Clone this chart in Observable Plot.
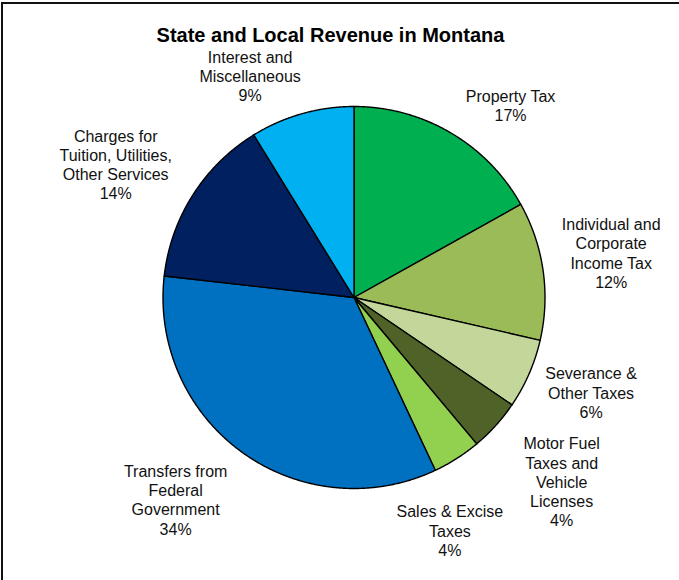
<!DOCTYPE html>
<html><head><meta charset="utf-8">
<script src="https://cdn.jsdelivr.net/npm/d3@7"></script>
<script src="https://cdn.jsdelivr.net/npm/@observablehq/plot@0.6"></script>
<style>
html,body{margin:0;padding:0;background:#fff;}
#wrap{position:relative;width:679px;height:580px;overflow:hidden;background:#fff;}
#border{position:absolute;left:1px;top:2px;right:-10px;bottom:-10px;border-left:2px solid #111;border-top:2px solid #111;pointer-events:none;}
</style></head><body>
<div id="wrap"><div id="chart"></div><div id="border"></div></div>
<script>
// ---- data ----
const title = "State and Local Revenue in Montana";
const categories = [
  "Property Tax",
  "Individual and\nCorporate\nIncome Tax",
  "Severance &\nOther Taxes",
  "Motor Fuel\nTaxes and\nVehicle\nLicenses",
  "Sales & Excise\nTaxes",
  "Transfers from\nFederal\nGovernment",
  "Charges for\nTuition, Utilities,\nOther Services",
  "Interest and\nMiscellaneous"
];
const shares = [16.9, 11.7, 5.9, 4.4, 4.1, 33.8, 14.4, 8.8];
const colors = ["#00B050", "#9BBB59", "#C4D79B", "#4F6228", "#92D050", "#0070C0", "#002060", "#00B0F0"];

// ---- layout (not data) ----
const W = 679, H = 580, CX = 353.5, CY = 297, R = 191;
const labelRadius = 1.36;
const labelNudge = [[25,32],[0,-8],[-1,-9],[15,10],[-44,14],[-27,-9],[-19,6],[-33,28]];

const pie = d3.pie().sort(null).value(d => d.value)(categories.map((name, i) => ({name, value: shares[i], i})));
const slices = pie.map(p => ({...p.data, start: p.startAngle, end: p.endAngle, mid: (p.startAngle + p.endAngle) / 2}));

const pts = [];
for (const s of slices) {
  pts.push({name: s.name, x: 0, y: 0});
  const n = Math.max(2, Math.ceil((s.end - s.start) / 0.005));
  for (let k = 0; k <= n; k++) {
    const a = s.start + (s.end - s.start) * k / n;
    pts.push({name: s.name, x: Math.sin(a), y: Math.cos(a)});
  }
}

const font = "Liberation Sans, Arial, Helvetica, sans-serif";
const chart = Plot.plot({
  width: W, height: H, margin: 0,
  style: {fontFamily: font, background: "transparent"},
  x: {domain: [-CX / R, (W - CX) / R], range: [0, W], axis: null},
  y: {domain: [-(H - CY) / R, CY / R], range: [H, 0], axis: null},
  color: {domain: categories, range: colors},
  marks: [
    Plot.line(pts, {x: "x", y: "y", z: "name", fill: "name", stroke: "#000", strokeWidth: 1.4, strokeLinejoin: "round", curve: "linear-closed"}),
    Plot.text(slices, {
      x: d => labelRadius * Math.sin(d.mid) + labelNudge[d.i][0] / R,
      y: d => labelRadius * Math.cos(d.mid) - labelNudge[d.i][1] / R,
      text: d => `${d.name}\n${Math.round(d.value)}%`,
      fontSize: 16, lineHeight: 1.2, fill: "#111", fontFamily: font, textAnchor: "middle", lineAnchor: "middle"
    }),
    Plot.text([title], {frameAnchor: "top", dx: -9.5, dy: 35.5, lineAnchor: "middle", fontSize: 20, fontWeight: "bold", fill: "#000", fontFamily: font})
  ]
});
document.getElementById("chart").appendChild(chart);
</script>
</body></html>
